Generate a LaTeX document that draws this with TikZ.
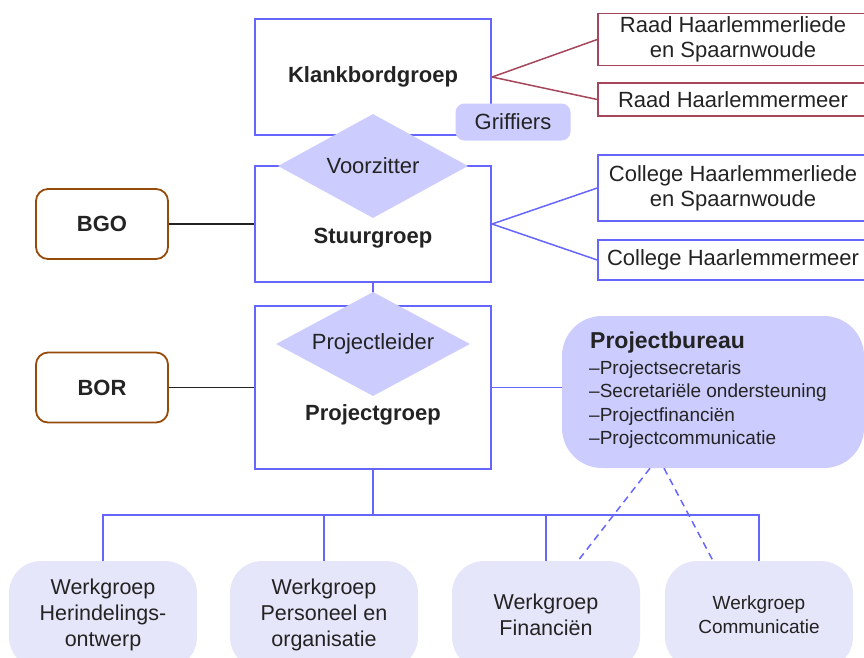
\documentclass[tikz,border=0pt]{standalone}
\usepackage{fontspec}
\setmainfont{Liberation Sans}
\usepackage{tikz}
\usetikzlibrary{shapes.geometric, positioning, calc}
\definecolor{orgblue}   {RGB}{102, 102, 255}
\definecolor{orglilac}  {RGB}{204, 204, 255}
\definecolor{orglight}  {RGB}{230, 230, 250}
\definecolor{orgred}    {RGB}{165,  70,  90}
\definecolor{orgbrown}  {RGB}{150,  75,  10}
\definecolor{orgdark}   {RGB}{ 35,  35,  35}
\newcommand{\grpfont}{\fontsize{22}{25}\bfseries\selectfont}
\newcommand{\itemfont}{\fontsize{19}{22}\selectfont}
\newcommand{\wgfont}{\fontsize{21.5}{26}\selectfont}
\tikzset{
	groupbox/.style={draw=orgblue, line width=2.2pt, minimum width=236pt},
	rolediamond/.style={diamond, fill=orglilac, aspect=2, inner sep=0pt, minimum height=104pt},
	raadbox/.style={draw=orgred, line width=1.5pt, minimum width=270pt, align=center},
	collegebox/.style={draw=orgblue, line width=1.5pt, minimum width=270pt, align=center},
	advbox/.style={draw=orgbrown, line width=1.8pt, rounded corners=12pt, minimum width=132pt, minimum height=70pt, font=\grpfont},
	wgbox/.style={fill=orglight, rounded corners=32pt, minimum width=188pt, minimum height=108pt, align=center, font=\wgfont},
	bluelink/.style={orgblue, line width=1.5pt},
	redlink/.style={orgred, line width=1.5pt},
	darklink/.style={orgdark, line width=1.5pt}
}

\begin{document}
\begin{tikzpicture}[x=1pt, y=-1pt, font=\fontsize{22}{25}\selectfont, text=orgdark]
	\useasboundingbox (0,0) rectangle (864,657);
	\clip (0,0) rectangle (864,657);
	% groepen
	\node[groupbox, minimum height=116pt, font=\grpfont] (klank) at (373,77) {Klankbordgroep};
	\node[groupbox, minimum height=116pt] (stuur) at (373,224) {};
	\node[groupbox, minimum height=163pt] (projgr) at (373,387.5) {};
	\node[font=\grpfont] (stuurtxt) at (373,238) {Stuurgroep};
	\node[font=\grpfont] (projgrtxt) at (373,415) {Projectgroep};
	% raden en colleges
	\node[raadbox, minimum height=51pt] (raadhl) at (733,39.5) {Raad Haarlemmerliede\\en Spaarnwoude};
	\node[raadbox, minimum height=33pt] (raadhm) at (733,99.5) {Raad Haarlemmermeer};
	\node[collegebox, minimum height=66pt] (colhl) at (733,188) {College Haarlemmerliede\\en Spaarnwoude};
	\node[collegebox, minimum height=40pt] (colhm) at (733,260) {College Haarlemmermeer};
	\node[advbox] (bgo) at (102,224) {BGO};
	\node[advbox] (bor) at (102,387.5) {BOR};
	% projectbureau
	\node[fill=orglilac, rounded corners=40pt, minimum width=302pt, minimum height=152pt] (pbur) at (713,392) {};
	\node[font=\fontsize{23}{26}\bfseries\selectfont, anchor=west, inner sep=0pt] (pburtitle) at (590,343) {Projectbureau};
	\foreach \task [count=\k] in {Projectsecretaris, Secretariële ondersteuning, Projectfinanciën, Projectcommunicatie}
		\node[font=\itemfont, anchor=west, inner sep=0pt] (pbtask\k) at (589,{346+23.5*\k}) {–\task};
	% werkgroepen
	\node[wgbox] (wgher) at (103,615) {Werkgroep\\Herindelings-\\ontwerp};
	\node[wgbox] (wgpers) at (324,615) {Werkgroep\\Personeel en\\organisatie};
	\node[wgbox] (wgfin) at (546,615) {Werkgroep\\Financiën};
	\node[wgbox, font=\fontsize{19}{24}\selectfont] (wgcom) at (759,615) {Werkgroep\\Communicatie};
	% lijnen
	\draw[redlink] (klank.east) -- (raadhl.west);
	\draw[redlink] (klank.east) -- (raadhm.west);
	\draw[bluelink] (stuur.east) -- (colhl.west);
	\draw[bluelink] (stuur.east) -- (colhm.west);
	\draw[darklink] (bgo.east) -- (stuur.west);
	\draw[darklink] (bor.east) -- (projgr.west);
	\draw[bluelink] (stuur.south) -- (projgr.north);
	\draw[bluelink] (projgr.east) -- (projgr.east -| pbur.west);
	\coordinate (bus) at (373,515);
	\draw[bluelink] (projgr.south) -- (bus);
	\foreach \w in {wgher,wgpers,wgfin,wgcom}{\draw[bluelink] (\w.north) |- (bus);}
	\draw[bluelink, dash pattern=on 7pt off 5pt] ([xshift=-63pt]pbur.south) -- ([xshift=32pt]wgfin.north);
	\draw[bluelink, dash pattern=on 7pt off 5pt] ([xshift=-49pt]pbur.south) -- ([xshift=-46pt]wgcom.north);
	% griffiers en rollen
	\node[fill=orglilac, rounded corners=9pt, minimum width=115pt, minimum height=37pt] (griff) at (513,122) {Griffiers};
	\node[rolediamond, minimum width=190pt] (voorz) at (373,166) {Voorzitter};
	\node[rolediamond, minimum width=194pt] (pleider) at (373,344) {Projectleider};
\end{tikzpicture}
\end{document}
